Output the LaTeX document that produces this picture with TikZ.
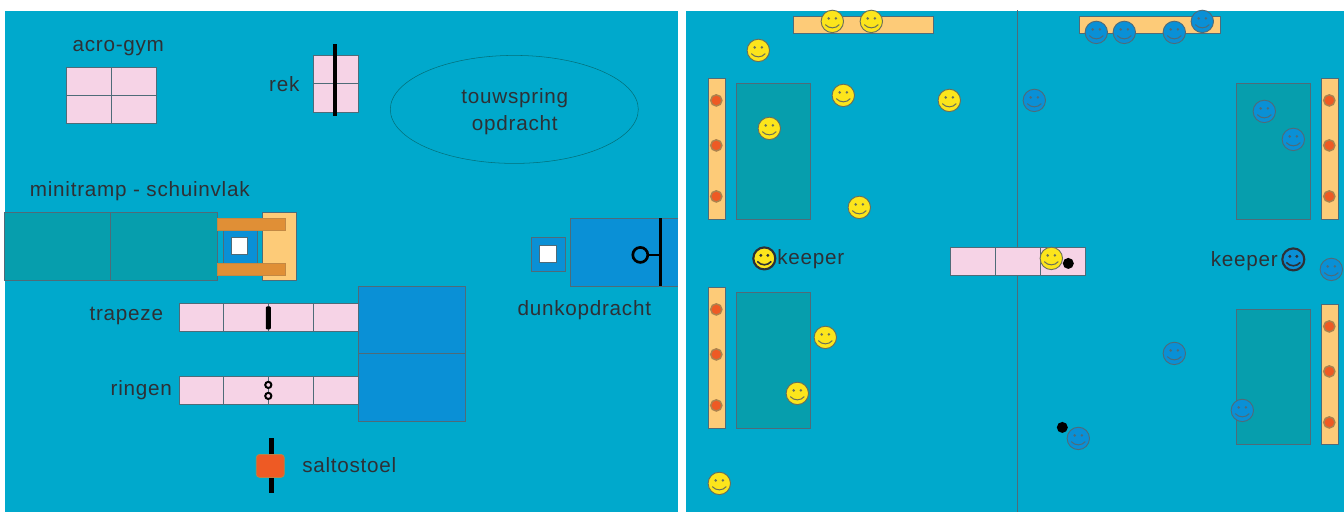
\documentclass[tikz,border=0pt]{standalone}
\usepackage{fontspec}
\setmainfont{Liberation Sans}[LetterSpace=3.6]
\definecolor{bgc}{HTML}{00A9CC}
\definecolor{tealc}{HTML}{069EAD}
\definecolor{pinkc}{HTML}{F6D3E6}
\definecolor{bluec}{HTML}{0A90D6}
\definecolor{lightor}{HTML}{FDCB78}
\definecolor{darkor}{HTML}{E08F36}
\definecolor{redc}{HTML}{EE5A24}
\definecolor{yelc}{HTML}{FCE51C}
\definecolor{linec}{HTML}{4F6B78}
\definecolor{facec}{HTML}{6A6F5A}
\definecolor{txtc}{HTML}{2E3035}
\tikzset{
  x=0.75pt,y=-0.75pt,
  lab/.style={font=\fontsize{15.5}{18}\selectfont,text=txtc,inner sep=0pt,align=center},
  shp/.style={draw=linec,line width=0.85pt},
  tealbox/.style={shp,fill=tealc},
  pinkbox/.style={shp,fill=pinkc},
  bluebox/.style={shp,fill=bluec},
  lightbox/.style={shp,fill=lightor},
  pics/smiley/.style args={#1/#2}{code={
    \fill[#1,draw=#2,line width=0.7pt] (0,0) circle (11.2);
    \fill[#2] (-3.6,-3) circle (1.4) (3.6,-3) circle (1.4);
    \draw[#2,line width=0.75pt] (-7,3.2) .. controls (-3.5,7.5) and (3.5,7.5) .. (7,3.2);
  }},
  pics/ysmile/.style={code={\pic{smiley={yelc/facec}};}},
  pics/bsmile/.style={code={\pic{smiley={bluec/linec}};}},
  pics/peg/.style={code={\fill[redc,draw=darkor!65!linec,line width=1.1pt] (0,0) circle (5.6);}}
}
\begin{document}
\begin{tikzpicture}
\useasboundingbox (0,0) rectangle (1344,512);
\fill[white] (0,0) rectangle (1344,512);
\fill[bgc] (5,11) rectangle (678,512);
\fill[bgc] (686,11) rectangle (1344,512);
\begin{scope}[shift={(-0.7,-0.6)}]
% acro-gym
\draw[pinkbox] (67,68) rectangle (157,124);
\draw[shp] (112,68) -- (112,124) (67,96) -- (157,96);
\node[lab] (tacro) at (119,49) {acro-gym};
% rek
\draw[pinkbox] (314,56) rectangle (359,113);
\draw[shp] (314,84) -- (359,84);
\draw[black,line width=3pt] (336,45) -- (336,117);
\node[lab] (trek) at (285,84.5) {rek};
% touwspring
\draw[draw=tealc!70!black,line width=0.4pt] (515,110) ellipse [x radius=124,y radius=54];
\node[lab] (ttouw) at (515.5,99) {touwspring};
\node[lab] (topd) at (515.5,125.5) {opdracht};
% minitramp
\node[lab] (tmini) at (140.5,192) {minitramp - schuinvlak};
\draw[lightbox] (263,213) rectangle (297,281);
\draw[tealbox] (5,213) rectangle (111,281);
\draw[tealbox] (111,213) rectangle (218,281);
\draw[bluebox] (224,230) rectangle (258,264);
\draw[shp,fill=white] (232,238) rectangle (248,255);
\draw[draw=darkor!80!linec,fill=darkor,line width=0.6pt] (218,219) rectangle (286,231);
\draw[draw=darkor!80!linec,fill=darkor,line width=0.6pt] (218,264) rectangle (286,276);
% trapeze, ringen
\node[lab] (ttrap) at (127,317) {trapeze};
\draw[pinkbox] (180,304) rectangle (359,332);
\draw[shp] (224,304) -- (224,332) (269,304) -- (269,332) (314,304) -- (314,332);
\fill[black,rounded corners=0.8pt] (266.5,307) rectangle (271.5,330);
\node[lab] (tring) at (142,391) {ringen};
\draw[pinkbox] (180,377) rectangle (359,405);
\draw[shp] (224,377) -- (224,405) (269,377) -- (269,405) (314,377) -- (314,405);
\draw[black,fill=pinkc,line width=1.5pt] (269,385.5) circle (3.1) (269,396.5) circle (3.1);
\draw[bluebox] (359,287) rectangle (466,354);
\draw[bluebox] (359,354) rectangle (466,422);
% saltostoel
\draw[black,line width=3.4pt] (272,439) -- (272,494);
\draw[draw=darkor!70!linec,fill=redc,line width=0.6pt,rounded corners=2.5pt] (257,455) rectangle (285,478);
\node[lab] (tsalto) at (350,465.5) {saltostoel};
% dunk
\draw[bluebox] (532,238) rectangle (566,272);
\draw[shp,fill=white] (540,246) rectangle (557,263);
\fill[bluec] (571,219) rectangle (678.7,287);
\draw[shp] (678.7,219) -- (571,219) -- (571,287) -- (678.7,287);
\draw[black,line width=2.6pt] (661,219) -- (661,287);
\draw[black,line width=2pt] (649,255.5) -- (661,255.5);
\draw[black,line width=2pt] (641,255.5) circle (7.5);
\node[lab] (tdunk) at (585,311) {dunkopdracht};

% right field
\draw[linec,line width=0.7pt] (1018,11) -- (1018,513);
\draw[lightbox] (794,17) rectangle (934,34);
\draw[lightbox] (1080,17) rectangle (1221,34);
\draw[lightbox] (709,79) rectangle (726,220);
\draw[lightbox] (709,288) rectangle (726,429);
\draw[lightbox] (1322,79) rectangle (1339,220);
\draw[lightbox] (1322,305) rectangle (1339,445);
\foreach \x/\y in {717/101,717/146,717/197,717/310,717/355,717/406,1330/101,1330/146,1330/197,1330/327,1330/372,1330/423}
  \pic at (\x,\y) {peg};
\draw[tealbox] (737,84) rectangle (811,220);
\draw[tealbox] (737,293) rectangle (811,429);
\draw[tealbox] (1237,84) rectangle (1311,220);
\draw[tealbox] (1237,310) rectangle (1311,445);
\draw[pinkbox] (951,248) rectangle (1086,276);
\draw[shp] (996,248) -- (996,276) (1041,248) -- (1041,276);
\foreach \x/\y in {833/22,872/22,759/51,844/96,950/101,770/129,860/208,826/338,798/394,720/484,1052/259}
  \pic at (\x,\y) {ysmile};
\foreach \x/\y in {1097/33,1125/33,1175/33,1203/22,1035/101,1265/112,1294/140,1332/270,1175/354,1243/411,1079/439}
  \pic at (\x,\y) {bsmile};
\fill[black] (1069,264) circle (5.5);
\fill[black] (1063,428) circle (5.5);
% keepers
\fill[yelc,draw=txtc,line width=1.6pt] (765,259) circle (11);
\fill[txtc] (761.5,256) circle (1.6) (768.5,256) circle (1.6);
\draw[txtc,line width=1.2pt] (758,262) .. controls (762,266.5) and (768,266.5) .. (772,262);
\node[lab] (tk1) at (811.5,259.5) {keeper};
\node[lab] (tk2) at (1245,261.5) {keeper};
\fill[bluec,draw=txtc,line width=1.6pt] (1294,260) circle (11);
\fill[txtc] (1290.5,257) circle (1.6) (1297.5,257) circle (1.6);
\draw[txtc,line width=1.2pt] (1287,263) .. controls (1291,267.5) and (1297,267.5) .. (1301,263);
\end{scope}
\end{tikzpicture}
\end{document}
